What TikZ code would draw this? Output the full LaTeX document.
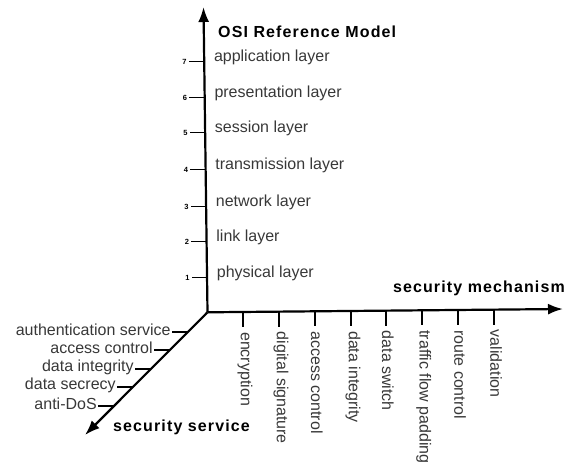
\documentclass[tikz,border=0pt]{standalone}
\usepackage{fontspec}
\setmainfont{Liberation Sans}
\newfontfamily\headfont[LetterSpace=7]{Liberation Sans}
\usetikzlibrary{arrows.meta,calc}
\definecolor{labelgray}{gray}{0.22}
\tikzset{
  axisline/.style={line width=2.2pt, -{Latex[length=15pt,width=11pt]}},
  tickline/.style={draw=black, line width=1.6pt},
  layerlabel/.style={anchor=west, inner sep=1pt, text=labelgray, font=\fontsize{16}{18}\selectfont},
  mechlabel/.style={anchor=west, rotate=-90, inner sep=1pt, text=labelgray, font=\fontsize{16}{18}\selectfont},
  servlabel/.style={anchor=east, inner sep=1pt, text=labelgray, font=\fontsize{16}{18}\selectfont},
  numlabel/.style={anchor=east, inner sep=2pt, font=\fontsize{7.5}{8}\selectfont\bfseries},
  headlabel/.style={inner sep=0pt, font=\fontsize{16}{18}\selectfont\headfont\bfseries}
}
\begin{document}
\begin{tikzpicture}[x=1pt,y=-1pt]
\useasboundingbox (0,0) rectangle (566,471);

% axes
\coordinate (O) at (207.5,312.3);
\coordinate (Ztip) at (203.5,7);
\coordinate (Xtip) at (563,309);
\coordinate (Ytip) at (85,435);

% OSI layer ticks on the vertical axis
\coordinate (z1) at (206.7,277.5);
\coordinate (z2) at (206.2,241.5);
\coordinate (z3) at (205.7,206.5);
\coordinate (z4) at (205.2,169.5);
\coordinate (z5) at (204.7,132.5);
\coordinate (z6) at (204.3,97.5);
\coordinate (z7) at (203.8,61.5);
\foreach \num/\txt in {1/physical layer, 2/link layer, 3/network layer,
    4/transmission layer, 5/session layer, 6/presentation layer, 7/application layer}{
  \draw[tickline] (z\num) -- ++(-15,0) coordinate (zl\num);
  \node[numlabel] (zn\num) at (zl\num) {\num};
  \node[layerlabel] (zt\num) at ($(z\num)+(9,-4)$) {\txt};
}

\draw[axisline] (O) -- (Ztip);
\draw[axisline] (O) -- (Xtip);
\draw[axisline] (O) -- (Ytip);

% axis titles
\node[headlabel, anchor=west] (osi) at (218,32) {OSI Reference Model};
\node[headlabel, anchor=east] (mech) at (565,288) {security mechanism};
\node[headlabel, anchor=west] (serv) at (113,427) {security service};

% security mechanisms on the horizontal axis
\foreach \p/\txt [count=\i] in {0.0999/encryption, 0.201/digital signature, 0.302/access control,
    0.404/data integrity, 0.502/data switch, 0.603/traffic flow padding, 0.705/route control, 0.806/validation}{
  \path (O) -- (Xtip) coordinate[pos=\p] (x\i);
  \path (x\i) ++(0,15) coordinate (xl\i);
  \draw[tickline] (x\i) -- (xl\i);
  \node[mechlabel] (xt\i) at ($(xl\i)+(2,4)$) {\txt};
}

% security services on the diagonal axis
\foreach \p/\txt [count=\i] in {0.161/authentication service, 0.307/access control, 0.462/data integrity,
    0.609/data secrecy, 0.764/anti-DoS}{
  \path (O) -- (Ytip) coordinate[pos=\p] (y\i);
  \path (y\i) ++(-16,0) coordinate (yl\i);
  \draw[tickline] (y\i) -- (yl\i);
  \node[servlabel] (yt\i) at ($(yl\i)+(0,-2)$) {\txt};
}
\end{tikzpicture}
\end{document}
